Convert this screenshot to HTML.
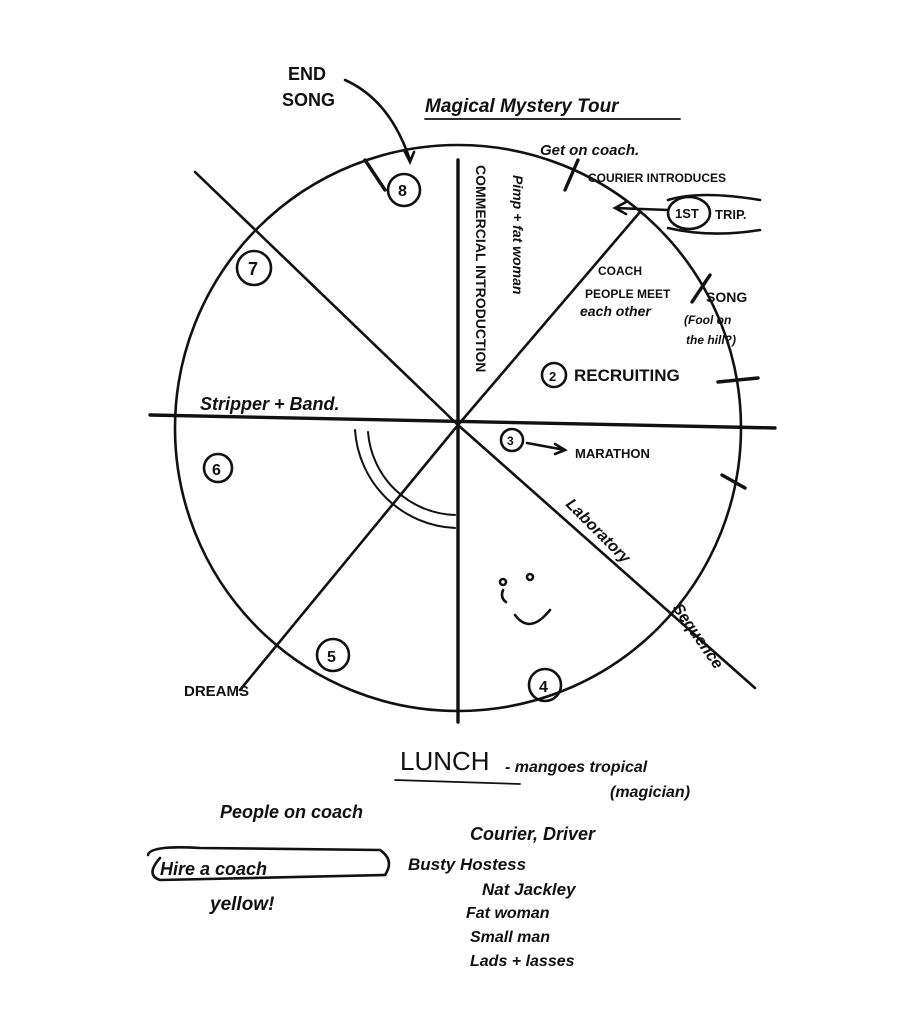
<!DOCTYPE html>
<html><head><meta charset="utf-8"><style>
html,body{margin:0;padding:0;background:#fff;}
svg{display:block;}
text{font-family:"Liberation Sans",sans-serif;fill:#111;}
</style></head><body>
<svg width="911" height="1024" viewBox="0 0 911 1024" xmlns="http://www.w3.org/2000/svg">
<g stroke="#111" fill="none" stroke-width="2.6" stroke-linecap="round">
<circle cx="458" cy="428" r="283"/>
<line x1="150" y1="415" x2="775" y2="428" stroke-width="3.4"/>
<line x1="458" y1="160" x2="458" y2="722" stroke-width="3.4"/>
<line x1="195" y1="172" x2="458" y2="425"/>
<line x1="458" y1="425" x2="755" y2="688"/>
<line x1="458" y1="425" x2="640" y2="212"/>
<line x1="458" y1="425" x2="240" y2="690"/>
<path d="M368 432 A90 90 0 0 0 455 515" stroke-width="2"/>
<path d="M355 430 A105 105 0 0 0 455 528" stroke-width="2"/>
<circle cx="404" cy="190" r="16"/>
<circle cx="254" cy="268" r="17"/>
<circle cx="218" cy="468" r="14"/>
<circle cx="333" cy="655" r="16"/>
<circle cx="545" cy="685" r="16"/>
<circle cx="554" cy="375" r="12"/>
<circle cx="512" cy="440" r="11"/>
<ellipse cx="689" cy="213" rx="21" ry="16"/>
<path d="M668 200 Q700 190 760 200 M668 228 Q710 238 760 230"/>
<line x1="365" y1="160" x2="385" y2="190" stroke-width="3.4"/>
<line x1="578" y1="160" x2="565" y2="190" stroke-width="3.4"/>
<line x1="710" y1="275" x2="692" y2="302" stroke-width="3.4"/>
<line x1="718" y1="382" x2="758" y2="378" stroke-width="3.4"/>
<line x1="722" y1="475" x2="745" y2="488" stroke-width="3.4"/>
<path d="M345 80 Q390 100 410 160"/>
<path d="M404 150 l6 12 l4 -10"/>
<path d="M668 210 L615 208 M626 202 l-11 6 l11 6"/>
<path d="M527 443 L565 450 M555 444 l10 6 l-10 4"/>
<path d="M148 855 Q150 845 200 848 L380 850 Q395 860 385 875 L160 880 Q145 875 160 858"/>
<path d="M425 119 L680 119" stroke-width="1.8"/>
<path d="M395 780 L520 784" stroke-width="1.8"/>
<path d="M503 590 q-3 8 3 12 M515 615 q15 20 35 -5"/>
<circle cx="503" cy="582" r="3"/><circle cx="530" cy="577" r="3"/>
</g>
<g font-size="18" font-weight="bold">
<text x="288" y="80">END</text>
<text x="282" y="106">SONG</text>
<text x="398" y="196" font-size="16">8</text>
<text x="248" y="275" font-size="18">7</text>
<text x="212" y="475" font-size="16">6</text>
<text x="327" y="662" font-size="16">5</text>
<text x="539" y="692" font-size="16">4</text>
<text x="549" y="381" font-size="13">2</text>
<text x="507" y="445" font-size="12">3</text>
<text x="425" y="112" font-size="19" font-style="italic">Magical Mystery Tour</text>
<text x="540" y="155" font-size="15" font-style="italic">Get on coach.</text>
<text x="588" y="182" font-size="12">COURIER INTRODUCES</text>
<text x="675" y="218" font-size="13">1ST</text>
<text x="715" y="219" font-size="13">TRIP.</text>
<text x="598" y="275" font-size="12">COACH</text>
<text x="585" y="298" font-size="12">PEOPLE MEET</text>
<text x="580" y="316" font-size="14" font-style="italic">each other</text>
<text x="706" y="302" font-size="14">SONG</text>
<text x="684" y="324" font-size="12" font-style="italic">(Fool on</text>
<text x="686" y="344" font-size="12" font-style="italic">the hill?)</text>
<text x="574" y="381" font-size="17">RECRUITING</text>
<text x="575" y="458" font-size="13">MARATHON</text>
<text x="200" y="410" font-size="18" font-style="italic">Stripper + Band.</text>
<text x="184" y="696" font-size="15">DREAMS</text>
<text x="400" y="770" font-size="26" font-weight="normal">LUNCH</text>
<text x="505" y="772" font-size="16" font-style="italic">- mangoes tropical</text>
<text x="610" y="797" font-size="16" font-style="italic">(magician)</text>
<text x="220" y="818" font-size="18" font-style="italic">People on coach</text>
<text x="470" y="840" font-size="18" font-style="italic">Courier, Driver</text>
<text x="160" y="875" font-size="18" font-style="italic">Hire a coach</text>
<text x="408" y="870" font-size="17" font-style="italic">Busty Hostess</text>
<text x="482" y="895" font-size="17" font-style="italic">Nat Jackley</text>
<text x="210" y="910" font-size="19" font-style="italic">yellow!</text>
<text x="466" y="918" font-size="16" font-style="italic">Fat woman</text>
<text x="470" y="942" font-size="16" font-style="italic">Small man</text>
<text x="470" y="966" font-size="16" font-style="italic">Lads + lasses</text>
<text transform="translate(476,165) rotate(90)" font-size="14">COMMERCIAL INTRODUCTION</text>
<text transform="translate(513,175) rotate(90)" font-size="14" font-style="italic">Pimp + fat woman</text>
<text transform="translate(565,505) rotate(45)" font-size="16" font-style="italic">Laboratory</text>
<text transform="translate(672,608) rotate(55)" font-size="16" font-style="italic">Sequence</text>
</g>
</svg>
</body></html>
